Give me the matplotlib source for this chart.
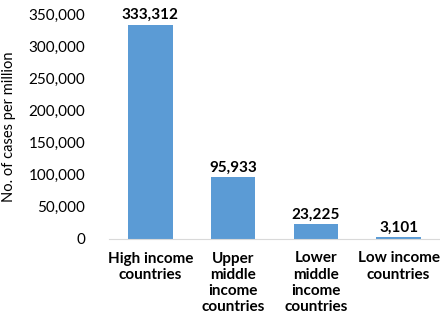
import matplotlib.pyplot as plt
from matplotlib.ticker import FuncFormatter

categories = ["High income\ncountries", "Upper\nmiddle\nincome\ncountries",
              "Lower\nmiddle\nincome\ncountries", "Low income\ncountries"]
cases = [333312, 95933, 23225, 3101]

plt.rcParams['font.family'] = ['Lato', 'DejaVu Sans']

fig = plt.figure(figsize=(4.4, 3.29), dpi=100)
ax = fig.add_axes([109 / 440, 1 - 239 / 329, 331 / 440, 225 / 329])

x = range(len(cases))
ax.bar(x, cases, width=0.54, color='#5b9bd5')
for i, v in zip(x, cases):
    ax.text(i, v + 4000, f"{v:,}", ha='center', va='bottom', fontsize=11, fontweight='bold')

ax.set_xlim(-0.5, 3.5)
ax.set_ylim(0, 350000)
ax.set_yticks(range(0, 350001, 50000))
ax.yaxis.set_major_formatter(FuncFormatter(lambda v, p: f"{int(v):,}"))
ax.set_xticks(list(x))
ax.set_xticklabels(categories, fontweight='bold', fontsize=11, linespacing=1.2)
ax.tick_params(axis='both', length=0, labelsize=11)
ax.tick_params(axis='y', pad=17)
ax.tick_params(axis='x', pad=9)
for s in ['top', 'right', 'left']:
    ax.spines[s].set_visible(False)
ax.spines['bottom'].set_color('#d9d9d9')
ax.set_ylabel("No. of cases per million", fontsize=10.5, labelpad=9)

fig.savefig("out.png", dpi=100)
